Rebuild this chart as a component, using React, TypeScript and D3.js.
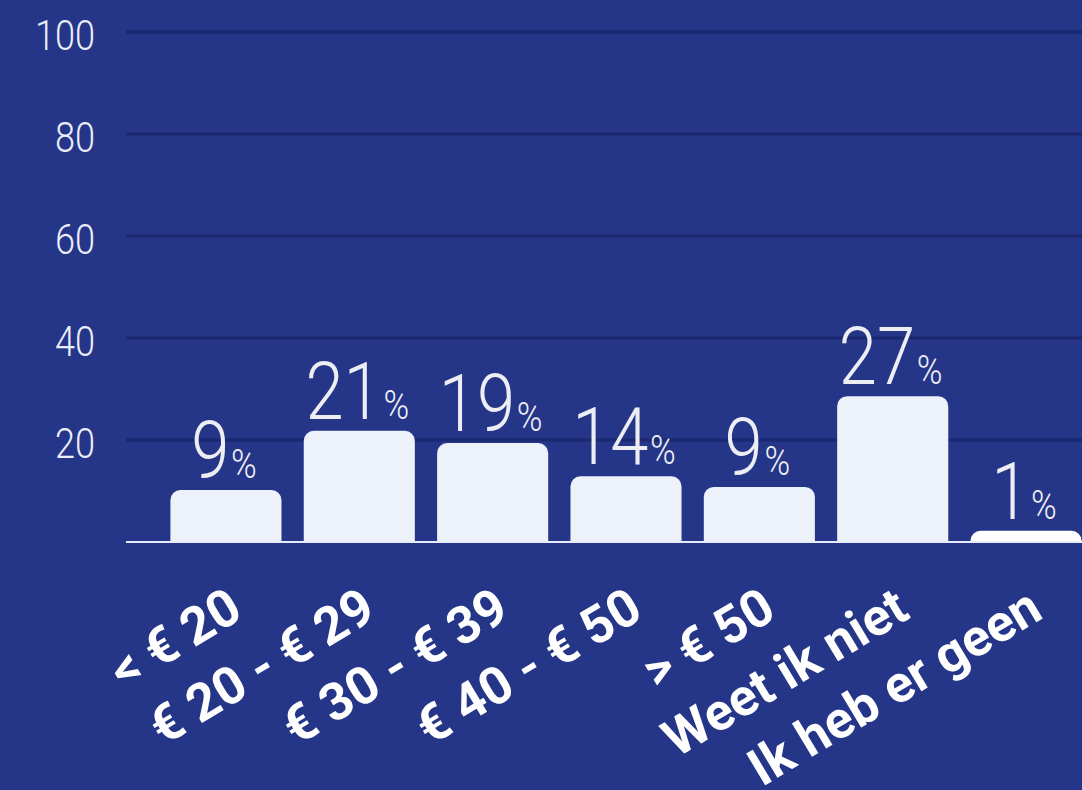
import * as React from 'react'
import * as d3 from 'd3'

const categories = ['< € 20', '€ 20 - € 29', '€ 30 - € 39', '€ 40 - € 50', '> € 50', 'Weet ik niet', 'Ik heb er geen']
// bar heights as drawn (they do not match the printed labels exactly)
const barValues = [10.2, 21.8, 19.4, 12.9, 10.8, 28.6, 2.2]
const percentLabels = [9, 21, 19, 14, 9, 27, 1]
const yTicks = [20, 40, 60, 80, 100]

const width = 1082
const height = 790
const bg = '#253588'
const gridColor = '#1b2870'
const barColor = '#edf1fa'

const topRounded = (x: number, y: number, w: number, h: number, r: number) => {
  const rr = Math.min(r, h, w / 2)
  const p = d3.path()
  p.moveTo(x, y + h)
  p.lineTo(x, y + rr)
  p.arcTo(x, y, x + rr, y, rr)
  p.lineTo(x + w - rr, y)
  p.arcTo(x + w, y, x + w, y + rr, rr)
  p.lineTo(x + w, y + h)
  p.closePath()
  return p.toString()
}

const App = () => {
  const yScale = d3.scaleLinear().domain([0, 100]).range([542, 32])
  const xScale = d3.scaleBand<string>()
    .domain(categories)
    .range([126, 1126])
    .paddingInner(0.167)
    .paddingOuter(0.333)

  const bw = xScale.bandwidth()

  return (
    <svg width={width} height={height} style={{ position: 'absolute', left: 0, top: 0, background: bg }}>
      <rect x={0} y={0} width={width} height={height} fill={bg} />

      {yTicks.map(t => (
        <g key={t}>
          <line x1={126} x2={width} y1={yScale(t)} y2={yScale(t)} stroke={gridColor} strokeWidth={3} />
          <text
            transform={`translate(95, ${yScale(t) + 18}) scale(0.86, 1)`}
            textAnchor="end"
            fill="#eaeef9"
            fontFamily="Roboto, sans-serif"
            fontWeight={300}
            fontSize={42}
          >{t}</text>
        </g>
      ))}

      {categories.map((c, i) => {
        const x = xScale(c) as number
        const y = yScale(barValues[i])
        return (
          <path
            key={c}
            d={topRounded(x, y, bw, yScale(0) - y, 10)}
            fill={i === categories.length - 1 ? '#ffffff' : barColor}
          />
        )
      })}

      <line x1={126} x2={width} y1={yScale(0)} y2={yScale(0)} stroke="#e8ecf8" strokeWidth={2} />

      {categories.map((c, i) => {
        const cx = (xScale(c) as number) + bw / 2
        const y = yScale(barValues[i]) - 12
        return (
          <text
            key={c}
            transform={`translate(${cx - 2}, ${y}) scale(0.87, 1)`}
            textAnchor="middle"
            fill="#eceef4"
            fontFamily="Roboto, sans-serif"
            fontWeight={300}
          >
            <tspan fontSize={79}>{percentLabels[i]}</tspan>
            <tspan fontSize={40} dx={2}>%</tspan>
          </text>
        )
      })}

      {categories.map(c => {
        const cx = (xScale(c) as number) + bw / 2
        return (
          <text
            key={c}
            transform={`translate(${cx + 19}, 617) rotate(-31)`}
            textAnchor="end"
            fill="#ffffff"
            fontFamily="Roboto, sans-serif"
            fontWeight={700}
            fontSize={52}
          >{c}</text>
        )
      })}
    </svg>
  )
}

export default App
